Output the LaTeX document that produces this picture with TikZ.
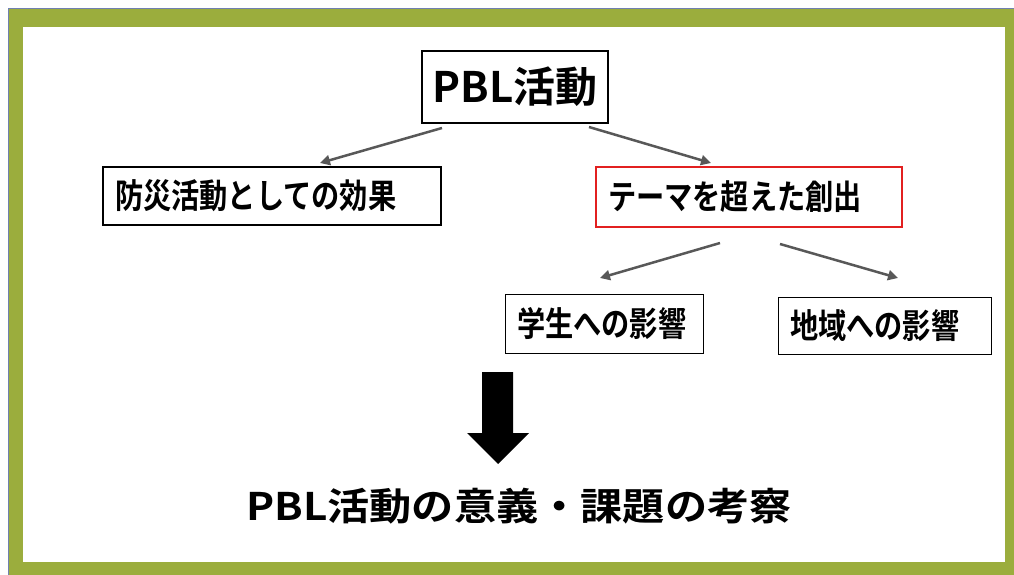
\documentclass[tikz,border=0pt]{standalone}
\usepackage{fontspec}
\usetikzlibrary{arrows.meta}
\setmainfont{Noto Sans CJK JP}[UprightFont=* Bold]
\newfontfamily\topfont{Noto Sans CJK JP}[UprightFont=* Bold]
\newfontfamily\boxfont{Noto Sans CJK JP}[UprightFont=* Bold, FakeStretch=0.83]
\newfontfamily\botfont{Noto Sans CJK JP}[UprightFont=* Bold, FakeStretch=1.11]
\definecolor{frame}{RGB}{155,173,61}
\definecolor{edgeblue}{RGB}{112,128,176}
\definecolor{arrgray}{RGB}{88,88,88}
\definecolor{boxred}{RGB}{226,32,32}
\tikzset{
  bx/.style={draw=black, inner xsep=12pt, inner ysep=0pt, align=left,
    font=\boxfont\fontsize{34pt}{36pt}\selectfont, anchor=center},
  conn/.style={draw=arrgray, line width=2.5pt, -{Triangle[length=10pt,width=10pt]}},
}
\begin{document}
\begin{tikzpicture}[x=1pt,y=-1pt]
\useasboundingbox (0,0) rectangle (1014,575);
% frame
\fill[frame] (8,9) rectangle (1014,575);
\fill[white] (23,27) rectangle (1005,562);
\draw[edgeblue, line width=1pt] (8,575) -- (8,9) -- (1014,9);
% boxes
\node[draw=black, line width=2pt, minimum width=186pt, minimum height=72pt, inner sep=0pt,
  font=\topfont\fontsize{42pt}{44pt}\selectfont] (pbl) at (515,87) {PBL活動};
\node[bx, line width=2.5pt, text width=314pt, minimum height=58pt] (eff) at (272,196) {防災活動としての効果};
\node[bx, draw=boxred, line width=2pt, text width=282pt, minimum height=60pt] (theme) at (749,197) {テーマを超えた創出};
\node[bx, line width=1pt, text width=174pt, minimum height=59pt] (stu) at (604,323.5) {学生への影響};
\node[bx, line width=1pt, text width=189pt, minimum height=57pt] (reg) at (884.5,325.5) {地域への影響};
% connector ends
\coordinate (a1s) at (442,128); \coordinate (a1e) at (320,163);
\coordinate (a2s) at (589,127); \coordinate (a2e) at (711,163);
\coordinate (a3s) at (720,243); \coordinate (a3e) at (600,278);
\coordinate (a4s) at (780,244); \coordinate (a4e) at (898,278);
\draw[conn] (a1s) -- (a1e);
\draw[conn] (a2s) -- (a2e);
\draw[conn] (a3s) -- (a3e);
\draw[conn] (a4s) -- (a4e);
% big arrow
\fill[black] (482,372) -- (513,372) -- (513,433) -- (529,433) -- (498,464) -- (467,433) -- (482,433) -- cycle;
% conclusion
\node[font=\botfont\fontsize{38pt}{40pt}\selectfont, inner sep=0pt] (concl) at (519,506) {PBL活動の意義・課題の考察};
\end{tikzpicture}
\end{document}
